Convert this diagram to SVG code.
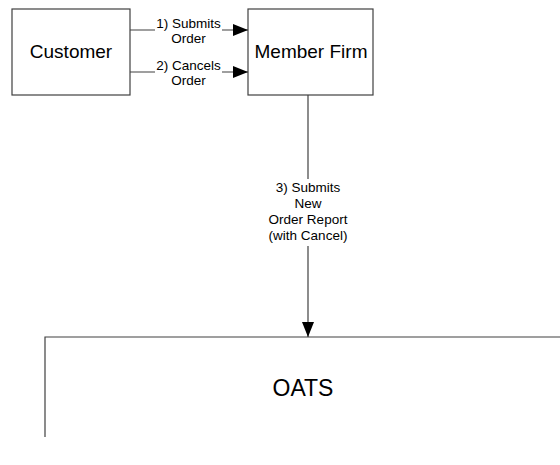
<svg xmlns="http://www.w3.org/2000/svg" width="560" height="465" viewBox="0 0 560 465">
<style>
.box{fill:#fff;stroke:#404040;stroke-width:1.2}
.conn{fill:none;stroke:#404040;stroke-width:1.2}
.big{font-family:"Liberation Sans",Arial,sans-serif;font-size:19px;fill:#000;text-anchor:middle}
.oats{font-family:"Liberation Sans",Arial,sans-serif;font-size:23px;fill:#000;text-anchor:middle}
.lbl{font-family:"Liberation Sans",Arial,sans-serif;font-size:13.5px;fill:#000;text-anchor:middle}
.bg{fill:#fff;stroke:none}
</style>
<defs>
<marker id="arr" markerWidth="15" markerHeight="12" refX="15" refY="6" orient="auto" markerUnits="userSpaceOnUse">
<path d="M0,0 L15,6 L0,12 Z" fill="#000"/>
</marker>
</defs>
<rect width="560" height="465" fill="#fff"/>
<g id="customer">
<rect class="box" x="12" y="9" width="118" height="86"/>
<text class="big" x="71" y="58">Customer</text>
</g>
<g id="member-firm">
<rect class="box" x="248" y="9" width="125" height="86"/>
<text class="big" x="311" y="58">Member Firm</text>
</g>
<g id="oats">
<path class="box" d="M45,437 L45,337 L560,337"/>
<text class="oats" x="303" y="396">OATS</text>
</g>
<g id="connectors">
<line class="conn" x1="130" y1="30" x2="248" y2="30" marker-end="url(#arr)"/>
<line class="conn" x1="130" y1="72" x2="248" y2="72" marker-end="url(#arr)"/>
<line class="conn" x1="308" y1="95" x2="308" y2="337" marker-end="url(#arr)"/>
</g>
<g id="labels">
<rect class="bg" x="155" y="16" width="67" height="30"/>
<text class="lbl" x="188.5" y="28">1) Submits</text>
<text class="lbl" x="188.5" y="43">Order</text>
<rect class="bg" x="155" y="58" width="67" height="30"/>
<text class="lbl" x="188.5" y="70">2) Cancels</text>
<text class="lbl" x="188.5" y="85">Order</text>
<rect class="bg" x="265" y="179" width="86" height="67"/>
<text class="lbl" x="308" y="192">3) Submits</text>
<text class="lbl" x="308" y="208">New</text>
<text class="lbl" x="308" y="224">Order Report</text>
<text class="lbl" x="308" y="240">(with Cancel)</text>
</g>
</svg>
